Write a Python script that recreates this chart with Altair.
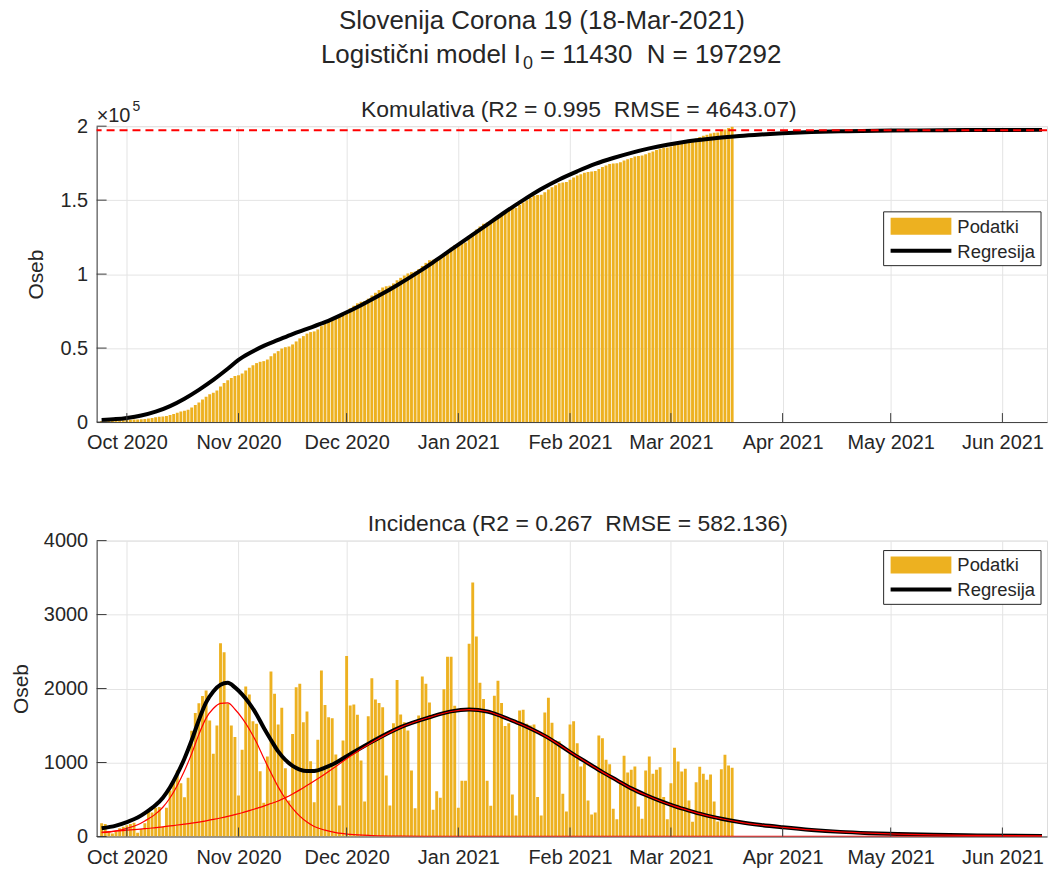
import altair as alt
import pandas as pd
import numpy as np

# ---------------- data ----------------
start_date = "2020-09-24"          # first daily bar
start_total = 500                  # cumulative count before the first bar
N_total = 197292                   # logistic saturation level (red dashed line)

daily_cases = [
    # Sep 24 - Sep 30
    180, 170, 60, 40, 60, 110, 130,
    # Oct
    150, 170, 185, 50, 100, 180, 370, 325, 387, 400, 130, 387, 620, 748, 892, 720,
    531, 793, 1430, 1670, 1800, 1900, 1973, 1568, 1117, 1500, 2613, 2491, 1797, 1500, 1345,
    # Nov
    555, 1171, 2027, 1919, 1559, 1523, 883, 455, 1081, 2230, 1928, 1514, 1739, 923, 486,
    1387, 2018, 2063, 1545, 1689, 1018, 464, 1306, 2243, 1779, 1613, 1599, 1108, 419, 1297,
    # Dec
    2441, 1770, 1784, 1644, 1027, 473, 1626, 2140, 1851, 1806, 1748, 824, 419, 1532, 2117,
    1649, 1545, 1432, 892, 383, 1635, 2162, 2063, 1811, 360, 613, 523, 1991, 2428, 2428, 1766,
    # Jan
    387, 752, 752, 2604, 3432, 2703, 2077, 1860, 752, 414, 1901, 2104, 1806, 1495, 1532,
    568, 284, 1703, 1712, 1523, 1500, 1514, 532, 284, 1676, 1874, 1536, 1297, 1288, 577, 338,
    # Feb
    1514, 1559, 1261, 946, 991, 486, 297, 324, 1365, 1329, 1036, 977, 374, 234,
    712, 1090, 865, 901, 946, 405, 239, 892, 1081, 847, 901, 937, 532, 234,
    # Mar 1 - 18
    721, 1198, 1014, 878, 914, 486, 198, 734, 941, 847, 766, 838, 473, 203, 910, 1104, 959, 928,
]

# fitted curves (day offsets from 2020-10-01)
curve_origin = "2020-10-01"
cum_fit_days = [-7, -3, 0, 4, 8, 12, 16, 20, 24, 28, 31, 34, 38, 42, 46, 50, 55, 60, 65, 70,
                75, 80, 85, 90, 95, 100, 105, 110, 115, 120, 125, 130, 135, 140, 145, 150,
                155, 160, 165, 170, 176, 182, 190, 200, 212, 226, 240, 254]
cum_fit = [1400, 2000, 2800, 4400, 7000, 10800, 15800, 21800, 28500, 36000, 42000, 46500,
           51500, 55500, 59500, 63000, 67500, 73000, 79000, 85500, 92500, 100000, 108000,
           116500, 125000, 133500, 142000, 150000, 157500, 164000, 169500, 174500, 178500,
           182000, 185000, 187500, 189500, 191000, 192300, 193400, 194400, 195200, 196000,
           196600, 197000, 197250, 197400, 197500]

inc_fit_days = [-7, -3, 0, 3, 5, 8, 10, 12, 14, 16, 18, 20, 22, 24, 26, 28, 30, 32, 34, 36,
                38, 40, 42, 44, 46, 48, 50, 52, 55, 58, 62, 68, 76, 84, 90, 95, 100, 104, 108,
                112, 116, 120, 124, 128, 132, 136, 140, 144, 148, 152, 156, 160, 165, 170,
                176, 182, 190, 198, 206, 214, 224, 236, 254]
inc_fit_total = [110, 147, 195, 255, 315, 425, 525, 665, 845, 1055, 1300, 1575, 1812, 1960,
                 2050, 2077, 2015, 1920, 1800, 1650, 1470, 1305, 1150, 1035, 955, 905, 885,
                 885, 930, 997, 1113, 1282, 1479, 1612, 1691, 1715, 1690, 1625, 1545, 1460,
                 1360, 1240, 1110, 990, 870, 760, 650, 560, 480, 410, 350, 295, 240, 195,
                 155, 124, 88, 62, 45, 33, 22, 14, 8]
inc_fit_wave1 = [50, 75, 110, 158, 210, 305, 395, 523, 690, 888, 1120, 1380, 1600, 1730,
                 1800, 1805, 1720, 1600, 1450, 1270, 1060, 860, 670, 510, 380, 275, 195, 135,
                 85, 52, 28, 12, 4, 2, 1, 0, 0, 0, 0, 0, 0, 0, 0, 0, 0, 0, 0, 0, 0, 0, 0, 0,
                 0, 0, 0, 0, 0, 0, 0, 0, 0, 0, 0]
inc_fit_wave2 = [60, 72, 85, 97, 105, 120, 130, 142, 155, 167, 180, 195, 212, 230, 250, 272,
                 295, 320, 350, 380, 410, 445, 480, 525, 575, 630, 690, 750, 845, 945, 1085,
                 1270, 1475, 1610, 1690, 1715, 1690, 1625, 1545, 1460, 1360, 1240, 1110, 990,
                 870, 760, 650, 560, 480, 410, 350, 295, 240, 195, 155, 124, 88, 62, 45, 33,
                 22, 14, 8]

month_ticks = ["2020-10-01", "2020-11-01", "2020-12-01", "2021-01-01", "2021-02-01",
               "2021-03-01", "2021-04-01", "2021-05-01", "2021-06-01"]
cum_ticks = [0, 50000, 100000, 150000, 200000]
inc_ticks = [0, 1000, 2000, 3000, 4000]

main_title = "Slovenija Corona 19 (18-Mar-2021)"
model_text_a = "Logistični model I"
model_text_sub = "0"
model_text_b = "= 11430 \u00a0N = 197292"
top_title = "Komulativa (R2 = 0.995 \u00a0RMSE = 4643.07)"
bottom_title = "Incidenca (R2 = 0.267 \u00a0RMSE = 582.136)"
legend_labels = ["Podatki", "Regresija"]
y_title = "Oseb"

# ---------------- styling ----------------
W, H = 954, 297
FONT = "Liberation Sans"
TXT = "#262626"
BAR = "#EDB120"
GRID = "#e4e4e4"
AXIS = "#3c3c3c"
TICK_FS = 20
MAIN_FS = 26
TITLE_FS = 23

dates = pd.date_range(start_date, periods=len(daily_cases), freq="D")
bars = pd.DataFrame({"date": dates, "daily": daily_cases,
                     "cum": start_total + np.cumsum(daily_cases)})
origin = pd.Timestamp(curve_origin)
cum_curve = pd.DataFrame({"date": origin + pd.to_timedelta(cum_fit_days, unit="D"),
                          "v": cum_fit})
inc_curve = pd.DataFrame({"date": origin + pd.to_timedelta(inc_fit_days, unit="D"),
                          "total": inc_fit_total, "w1": inc_fit_wave1, "w2": inc_fit_wave2})
xticks_df = pd.DataFrame({"date": pd.to_datetime(month_ticks)})

x_dom = [alt.DateTime(year=2020, month=9, date=24), alt.DateTime(year=2021, month=6, date=12)]
x_vals = [alt.DateTime(year=int(d[:4]), month=int(d[5:7]), date=1) for d in month_ticks]


def x_axis():
    return alt.Axis(values=x_vals, format="%b %Y", labelFontSize=TICK_FS, labelFont=FONT,
                    labelColor=TXT, ticks=False, grid=True, gridColor=GRID, domainColor=AXIS,
                    labelPadding=11, title=None, labelFlush=False, labelOverlap=False)


def y_axis(vals, title_x, expr=None):
    kw = dict(values=vals, labelFontSize=TICK_FS, labelFont=FONT, labelColor=TXT, ticks=False,
              grid=True, gridColor=GRID, domainColor=AXIS, labelPadding=9, title=y_title,
              titleFont=FONT, titleFontSize=21, titleFontWeight="normal", titleColor=TXT,
              titleX=title_x, titleY=H / 2, titleAngle=270, titleBaseline="middle",
              titleAlign="center", labelFlush=False, format="d")
    if expr:
        kw["labelExpr"] = expr
    return alt.Axis(**kw)


X = alt.X("date:T", scale=alt.Scale(domain=x_dom), axis=x_axis())
one = pd.DataFrame({"k": [0]})


def text(t, x, y, size=TICK_FS, align="center", baseline="middle"):
    return alt.Chart(one).mark_text(text=t, font=FONT, fontSize=size, color=TXT, align=align,
                                    baseline=baseline).encode(x=alt.value(x), y=alt.value(y))


def legend(top):
    box = alt.Chart(one).mark_rect(fill="white", stroke="#262626", strokeWidth=1).encode(
        x=alt.value(790), x2=alt.value(948), y=alt.value(top), y2=alt.value(top + 54))
    sw = alt.Chart(one).mark_rect(fill=BAR).encode(
        x=alt.value(797), x2=alt.value(858), y=alt.value(top + 6), y2=alt.value(top + 23))
    ln = alt.Chart(one).mark_rule(color="black", strokeWidth=4).encode(
        x=alt.value(797), x2=alt.value(858), y=alt.value(top + 39))
    t1 = text(legend_labels[0], 864, top + 15, size=18.5, align="left")
    t2 = text(legend_labels[1], 864, top + 40, size=18.5, align="left")
    return [box, sw, ln, t1, t2]


def tick_marks(yvals, yfield_scale):
    xt = alt.Chart(xticks_df).mark_rule(color=AXIS, strokeWidth=1).encode(
        x=alt.X("date:T", scale=alt.Scale(domain=x_dom)), y=alt.value(H), y2=alt.value(H - 9))
    yt = alt.Chart(pd.DataFrame({"v": yvals})).mark_rule(color=AXIS, strokeWidth=1).encode(
        y=alt.Y("v:Q", scale=yfield_scale), x=alt.value(0), x2=alt.value(10))
    return [xt, yt]


# ---------------- top panel: cumulative ----------------
ys_top = alt.Scale(domain=[0, 200000], nice=False)
top_bars = alt.Chart(bars).mark_bar(color=BAR, size=2.9, clip=True).encode(
    x=X, y=alt.Y("cum:Q", scale=ys_top, axis=y_axis(cum_ticks, -60, "datum.value / 100000")))
top_line = alt.Chart(cum_curve).mark_line(color="black", strokeWidth=4, clip=True,
                                          interpolate="monotone").encode(
    x=alt.X("date:T", scale=alt.Scale(domain=x_dom)), y=alt.Y("v:Q", scale=ys_top))
top_N = alt.Chart(pd.DataFrame({"n": [N_total]})).mark_rule(
    color="#ff0000", strokeWidth=2, strokeDash=[8, 5]).encode(y=alt.Y("n:Q", scale=ys_top))

top_layers = [top_bars, top_line, top_N] + tick_marks(cum_ticks, ys_top) + legend(86) + [
    text(main_title, 447, -106, size=MAIN_FS),
    text(model_text_a, 426, -71, size=MAIN_FS, align="right"),
    text(model_text_sub, 428, -62, size=18, align="left"),
    text(model_text_b, 445, -71, size=MAIN_FS, align="left"),
    text(top_title, 484, -16, size=TITLE_FS),
    text("\u00d710", 0, -10, size=20, align="left"),
    text("5", 36, -19, size=14, align="left"),
]
top = alt.layer(*top_layers).properties(width=W, height=H)

# ---------------- bottom panel: incidence ----------------
ys_bot = alt.Scale(domain=[0, 4000], nice=False)
bot_bars = alt.Chart(bars).mark_bar(color=BAR, size=2.9, clip=True).encode(
    x=X, y=alt.Y("daily:Q", scale=ys_bot, axis=y_axis(inc_ticks, -75)))
bx = alt.X("date:T", scale=alt.Scale(domain=x_dom))
bot_total = alt.Chart(inc_curve).mark_line(color="black", strokeWidth=4, clip=True,
                                           interpolate="monotone").encode(
    x=bx, y=alt.Y("total:Q", scale=ys_bot))
bot_w1 = alt.Chart(inc_curve).mark_line(color="#ff0000", strokeWidth=1.2, clip=True,
                                        interpolate="monotone").encode(
    x=bx, y=alt.Y("w1:Q", scale=ys_bot))
bot_w2 = alt.Chart(inc_curve).mark_line(color="#ff0000", strokeWidth=1.2, clip=True,
                                        interpolate="monotone").encode(
    x=bx, y=alt.Y("w2:Q", scale=ys_bot))

bot_layers = [bot_bars, bot_total, bot_w1, bot_w2] + tick_marks(inc_ticks, ys_bot) + \
    legend(10) + [text(bottom_title, 483, -17, size=TITLE_FS)]
bottom = alt.layer(*bot_layers).properties(width=W, height=H)

chart = alt.vconcat(top, bottom, spacing=119, bounds="flush").properties(
    padding={"left": 10, "top": 5, "right": 0, "bottom": 0}
).configure_view(stroke=None).configure(background="white")

chart.save("out.html", embed_options={"renderer": "svg", "actions": False})
